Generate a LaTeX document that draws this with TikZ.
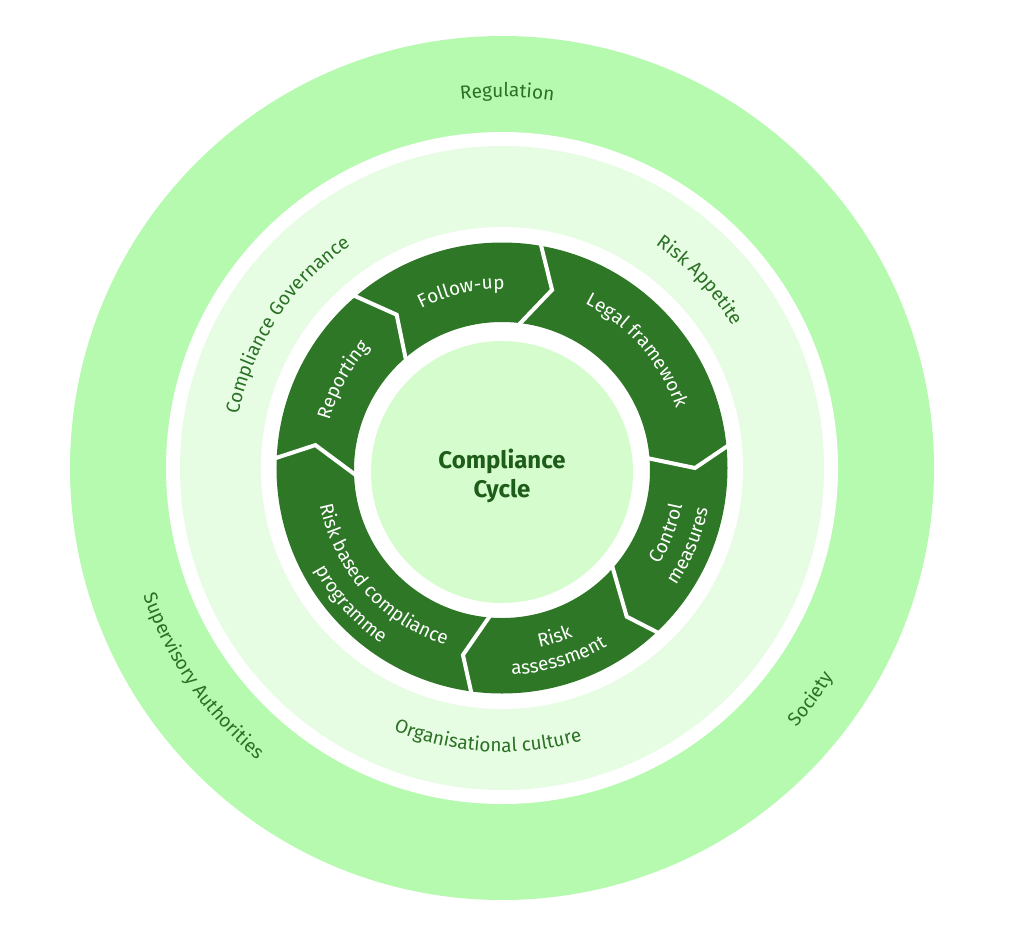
\documentclass[tikz,border=0pt]{standalone}
\usepackage{fontspec}
\setmainfont{Fira Sans}
\usetikzlibrary{decorations.text}
\definecolor{outerc}{HTML}{B6FAAF}
\definecolor{palec}{HTML}{E6FDE3}
\definecolor{darkc}{HTML}{2D7726}
\definecolor{centerc}{HTML}{D5FCCD}
\definecolor{lblc}{HTML}{2B7025}
\definecolor{titlec}{HTML}{1E5C19}
\newcommand\lblfont{\fontsize{19}{22}\selectfont}
\newcommand\CWlabel[4]{\path[decorate,decoration={text along path,text align=center,text color=#3,text={|\lblfont|#4}}] ({#1+70}:#2) arc[start angle={#1+70},end angle={#1-70},radius=#2];}
\newcommand\CCWlabel[4]{\path[decorate,decoration={text along path,text align=center,text color=#3,text={|\lblfont|#4}}] ({#1-70}:#2) arc[start angle={#1-70},end angle={#1+70},radius=#2];}
\tikzset{sepline/.style={white,line width=4pt,line join=miter}}
\begin{document}
\begin{tikzpicture}[x=1pt,y=1pt]
\useasboundingbox (-502,-462) rectangle (522,468);
% rings
\fill[outerc] (0,0) circle[radius=432];
\fill[white] (0,0) circle[radius=336];
\fill[palec] (0,0) circle[radius=322];
\fill[white] (0,0) circle[radius=241];
\fill[darkc,even odd rule] (0,0) circle[radius=225.5] (0,-2) circle[radius=148];
% separators (chevrons)
\draw[sepline] (80.7:232) -- (74.3:185) -- (83.7:143);
\draw[sepline] (6.3:232) -- (0:193) -- (4.2:143);
\draw[sepline] (-46.1:232) -- (-50:194) -- (-40.5:143);
\draw[sepline] (-97.3:232) -- (-101.8:191) -- (-93.4:143);
\draw[sepline] (178:232) -- (173:188) -- (183.9:143);
\draw[sepline] (131.2:232) -- (124.5:186) -- (132:143);
% center
\fill[centerc] (0,-4) circle[radius=131];
\node[align=center,font=\fontsize{24}{29}\selectfont\bfseries,text=titlec] (cycle) at (0,-8) {Compliance\\Cycle};
% outer labels
\CWlabel{89.2}{371}{lblc}{Regulation}
\CCWlabel{214.8}{381}{lblc}{Supervisory Authorities}
\CCWlabel{-36.8}{392}{lblc}{Society}
% middle labels
\CWlabel{146.4}{269}{lblc}{Compliance Governance}
\CWlabel{43.5}{271}{lblc}{Risk Appetite}
\CCWlabel{-93}{284}{lblc}{Organisational culture}
% ring labels
\CWlabel{103}{179}{white}{Follow-up}
\CWlabel{41}{184}{white}{Legal framework}
\CWlabel{151}{179}{white}{Reporting}
\CCWlabel{-21.6}{184}{white}{Control}
\CCWlabel{-22.6}{210}{white}{measures}
\CCWlabel{-72.7}{183}{white}{Risk}
\CCWlabel{-73.4}{207}{white}{assessment}
\CCWlabel{222}{186}{white}{Risk based compliance}
\CCWlabel{222}{213}{white}{programme}
\end{tikzpicture}
\end{document}
